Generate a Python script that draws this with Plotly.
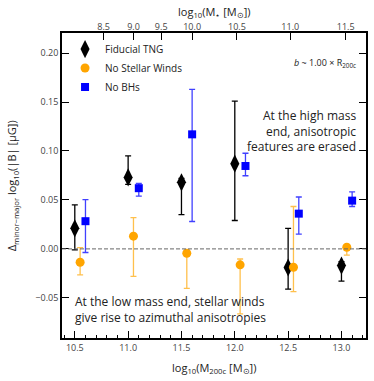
import plotly.graph_objects as go

# ---- data ----
halo_mass = [10.5, 11.0, 11.5, 12.0, 12.5, 13.0]

fid_y = [0.021, 0.073, 0.068, 0.087, -0.019, -0.017]
fid_up = [0.024, 0.022, 0.004, 0.064, 0.040, 0.004]
fid_dn = [0.022, 0.007, 0.033, 0.058, 0.022, 0.016]

nsw_y = [-0.0136, 0.013, -0.0044, -0.0163, -0.0187, 0.0017]
nsw_up = [0.015, 0.019, 0.003, 0.006, 0.062, 0.002]
nsw_dn = [0.013, 0.041, 0.036, 0.050, 0.025, 0.008]

nbh_y = [0.0283, 0.062, 0.117, 0.0847, 0.036, 0.0493]
nbh_up = [0.022, 0.005, 0.046, 0.013, 0.017, 0.009]
nbh_dn = [0.032, 0.008, 0.089, 0.010, 0.021, 0.006]

stellar_tick_labels = ["8.5", "9.0", "9.5", "10.0", "10.5", "11.0", "11.5"]
halo_at_stellar = [10.77, 11.05, 11.31, 11.60, 12.02, 12.52, 13.04]

y_ticks = [-0.05, 0.0, 0.05, 0.10, 0.15, 0.20]
x_ticks = [10.5, 11.0, 11.5, 12.0, 12.5, 13.0]

FONT = "Open Sans"
nsw_off = 0.05
nbh_off = 0.10

fig = go.Figure()

fig.add_trace(go.Scatter(
    x=halo_mass, y=fid_y, mode="markers", name="Fiducial TNG",
    marker=dict(symbol="diamond-tall", size=13, color="black"),
    error_y=dict(type="data", symmetric=False, array=fid_up, arrayminus=fid_dn,
                 color="black", thickness=1.3, width=3),
))
fig.add_trace(go.Scatter(
    x=[m + nsw_off for m in halo_mass], y=nsw_y, mode="markers", name="No Stellar Winds",
    marker=dict(symbol="circle", size=9, color="orange"),
    error_y=dict(type="data", symmetric=False, array=nsw_up, arrayminus=nsw_dn,
                 color="rgba(255,165,0,0.7)", thickness=1.3, width=3),
))
fig.add_trace(go.Scatter(
    x=[m + nbh_off for m in halo_mass], y=nbh_y, mode="markers", name="No BHs",
    marker=dict(symbol="square", size=8, color="blue"),
    error_y=dict(type="data", symmetric=False, array=nbh_up, arrayminus=nbh_dn,
                 color="rgba(0,0,255,0.75)", thickness=1.3, width=3),
))
# invisible trace for top axis
fig.add_trace(go.Scatter(x=halo_at_stellar, y=[0] * len(halo_at_stellar), xaxis="x2",
                         mode="markers", marker=dict(opacity=0), showlegend=False,
                         hoverinfo="skip"))

fig.add_hline(y=0, line=dict(color="#666", width=1, dash="4px,2px"))

xr = [10.38, 13.23]
TICKC = "#444"
fig.update_layout(
    width=374, height=381,
    margin=dict(l=62, r=8, t=33, b=43),
    paper_bgcolor="white", plot_bgcolor="white",
    font=dict(family=FONT, color="#222", size=10),
    showlegend=True,
    legend=dict(x=0.01, y=0.995, xanchor="left", yanchor="top",
                bgcolor="rgba(0,0,0,0)", font=dict(size=10, color="#222"),
                itemsizing="trace", tracegroupgap=0),
    xaxis=dict(range=xr, tickvals=x_ticks, ticktext=[f"{v:.1f}" for v in x_ticks],
               ticks="inside", ticklen=7, tickwidth=1.3, tickcolor="black",
               showline=True, linecolor="black", linewidth=1.8, mirror=True,
               showgrid=False, zeroline=False, automargin=False,
               minor=dict(dtick=0.1, ticks="inside", ticklen=3, tickwidth=1, tickcolor="black"),
               tickfont=dict(size=9, color=TICKC)),
    xaxis2=dict(range=xr, overlaying="x", side="top", tickvals=halo_at_stellar,
                ticktext=stellar_tick_labels, ticks="inside", ticklen=7, tickwidth=1.3,
                tickcolor="black", showgrid=False, zeroline=False, showline=False,
                automargin=False, tickfont=dict(size=9, color=TICKC)),
    yaxis=dict(range=[-0.091, 0.2205], tickvals=y_ticks,
               ticktext=[f"{v:.2f}".replace("-", "−") for v in y_ticks],
               ticks="inside", ticklen=7, tickwidth=1.3, tickcolor="black",
               showline=True, linecolor="black", linewidth=1.8, mirror="ticks",
               showgrid=False, zeroline=False, automargin=False,
               tickfont=dict(size=9, color=TICKC)),
)

# axis titles
fig.add_annotation(xref="paper", yref="paper", x=0.5, y=-0.098, yanchor="middle",
                   xanchor="center", showarrow=False,
                   text="log<sub>10</sub>(M<sub>200c</sub> [M<sub>⊙</sub>])",
                   font=dict(size=11, color="#222"))
fig.add_annotation(xref="paper", yref="paper", x=0.5, y=1.07, yanchor="middle",
                   xanchor="center", showarrow=False,
                   text="log<sub>10</sub>(M<sub>⋆</sub> [M<sub>⊙</sub>])",
                   font=dict(size=11, color="#222"))
fig.add_annotation(xref="paper", yref="paper", x=-0.165, y=0.5, yanchor="middle",
                   xanchor="center", showarrow=False, textangle=-90,
                   text="Δ<sub>minor−major</sub> log<sub>10</sub>(|B| [μG])",
                   font=dict(size=11, color="#222"))

fig.add_annotation(xref="paper", yref="paper", x=0.975, y=0.90, xanchor="right",
                   yanchor="middle", showarrow=False,
                   text="<i>b</i> ~ 1.00 × R<sub>200c</sub>", font=dict(size=9, color="#222"))
fig.add_annotation(xref="paper", yref="paper", x=0.975, y=0.68, xanchor="right",
                   yanchor="middle", showarrow=False, align="right",
                   text="At the high mass<br>end, anisotropic<br>features are erased",
                   font=dict(size=12, color="#222"))
fig.add_annotation(xref="paper", yref="paper", x=0.035, y=0.095, xanchor="left",
                   yanchor="middle", showarrow=False, align="left",
                   text="At the low mass end, stellar winds<br>give rise to azimuthal anisotropies",
                   font=dict(size=12, color="#222"))

fig.write_html("out.html", config={"displayModeBar": False},
               post_script="document.body.style.margin='0';")
